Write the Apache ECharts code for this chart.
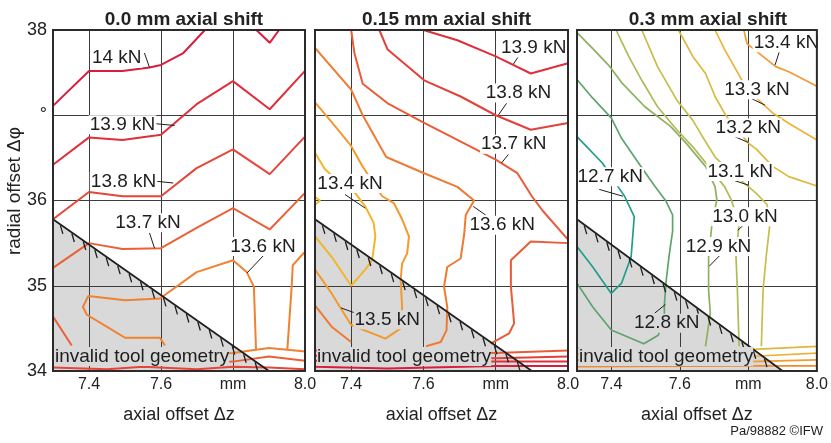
<!DOCTYPE html>
<html>
<head>
<meta charset="utf-8">
<script src="https://cdn.jsdelivr.net/npm/echarts@6/dist/echarts.min.js"></script>
<style>html,body{margin:0;padding:0;background:#fff;}#c{width:831px;height:443px;}</style>
</head>
<body>
<div id="c"></div>
<script>
// ---------- values ----------
const titles = ['0.0 mm axial shift', '0.15 mm axial shift', '0.3 mm axial shift'];
const xTickValues = [7.4, 7.6, 7.8];
const xLabelValues = [7.4, 7.6, 7.8, 8.0];
const yTickLabels = {34: '34', 35: '35', 36: '36', 37: '°', 38: '38'};
const xName = 'axial offset Δz';
const yName = 'radial offset Δφ';
const footer = 'Pa/98882 ©IFW';
const invalidText = 'invalid tool geometry';
const invalidBoundary = [[7.3, 35.78], [7.9, 34.0]];

// panel 1 : 0.0 mm axial shift
const p1_140a = [[7.3,37.11],[7.4,37.52],[7.493,37.52],[7.568,37.56],[7.6,37.59],[7.662,37.73],[7.722,38.0]];
const p1_140b = [[7.865,38.0],[7.902,37.85],[7.928,38.0]];
const p1_139 = [[7.3,36.42],[7.4,36.74],[7.493,36.71],[7.6,36.77],[7.699,37.13],[7.8,37.40],[7.902,37.07],[8.0,37.52]];
const p1_138 = [[7.3,35.78],[7.4,36.10],[7.493,36.05],[7.6,36.05],[7.699,36.38],[7.8,36.60],[7.902,36.31],[8.0,36.75]];
const p1_137 = [[7.3,35.21],[7.4,35.50],[7.493,35.43],[7.6,35.44],[7.699,35.68],[7.8,35.91],[7.902,35.66],[8.0,36.09]];
const p1_136a = [[7.611,34.30],[7.597,34.39],[7.5,34.39],[7.449,34.52],[7.394,34.66],[7.383,34.75],[7.398,34.88],[7.5,34.83],[7.597,34.85],[7.699,35.16],[7.8,35.30],[7.838,35.16],[7.858,34.99],[7.864,34.25],[7.8,34.21],[7.74,34.2]];
const p1_136b = [[8.0,35.40],[7.966,35.24],[7.963,34.99],[7.951,34.25],[8.0,34.23]];
const p1_136c = [[7.864,34.25],[7.9,34.27],[7.951,34.25]];
const p1_137b = [[7.74,34.1],[7.8,34.11],[7.9,34.17],[8.0,34.12]];
const p1_137c = [[7.3,34.64],[7.352,34.30]];
const p1_138b = [[7.3,34.04],[7.45,34.02],[7.55,34.05],[7.7,34.02],[7.8,34.05],[7.9,34.04],[8.0,34.02]];

// panel 2 : 0.15 mm axial shift
const p2_139 = [[7.6,38.0],[7.694,37.88],[7.8,37.69],[7.897,37.49],[8.0,37.61]];
const p2_138 = [[7.478,38.0],[7.501,37.77],[7.602,37.41],[7.703,37.22],[7.8,37.0],[7.897,36.83],[8.0,36.91]];
const p2_137a = [[7.4,38.0],[7.409,37.73],[7.432,37.37],[7.501,37.14],[7.602,36.91],[7.694,36.71],[7.8,36.48],[7.86,36.32],[7.9,36.05],[7.93,35.88],[8.0,35.54]];
const p2_137b = [[8.0,35.5],[7.897,35.52],[7.842,35.30],[7.842,34.99],[7.851,34.56],[7.837,34.44],[7.786,34.32]];
const p2_136a = [[7.3,37.79],[7.4,37.30],[7.432,37.0],[7.497,36.51],[7.602,36.32],[7.694,36.16],[7.74,36.0],[7.717,35.83],[7.713,35.61],[7.703,35.32],[7.666,35.22],[7.657,34.99],[7.666,34.75],[7.664,34.48],[7.648,34.34],[7.607,34.29]];
const p2_136b = [[7.3,34.77],[7.346,34.52],[7.4,34.34]];
const p2_135 = [[7.3,37.15],[7.344,36.93],[7.4,36.64],[7.43,36.41],[7.486,36.05],[7.518,35.97],[7.541,35.78],[7.56,35.58],[7.555,35.38],[7.541,35.26],[7.537,35.07],[7.541,34.75],[7.537,34.50],[7.495,34.38],[7.4,34.54],[7.346,34.91],[7.3,35.19]];
const p2_134 = [[7.3,36.56],[7.327,36.37],[7.37,36.2],[7.411,36.09],[7.439,35.93],[7.462,35.74],[7.467,35.58],[7.458,35.30],[7.439,35.19],[7.4,35.0],[7.346,35.34],[7.3,35.58]];
const p2_133 = [[7.3,36.04],[7.314,36.0],[7.3,35.95]];
const p2_137c = [[7.3,34.24],[7.5,34.23],[7.8,34.21],[8.0,34.24]];
const p2_138c = [[7.3,34.18],[7.8,34.15],[8.0,34.17]];
const p2_139c = [[7.3,34.12],[7.8,34.11],[8.0,34.11]];
const p2_140c = [[7.3,34.05],[7.5,34.03],[7.8,34.06],[8.0,34.06]];

// panel 3 : 0.3 mm axial shift
const p3_134 = [[7.787,38.0],[7.796,37.84],[7.88,37.57],[7.918,37.51],[8.0,37.34]];
const p3_133 = [[7.703,38.0],[7.731,37.77],[7.759,37.57],[7.787,37.37],[7.824,37.2],[7.87,37.03],[7.92,36.9],[8.0,36.71]];
const p3_132 = [[7.596,38.0],[7.638,37.69],[7.675,37.49],[7.703,37.22],[7.731,37.02],[7.75,36.91],[7.801,36.67],[7.824,36.6],[7.871,36.40],[7.918,36.28],[8.0,36.17]];
const p3_131 = [[7.489,38.0],[7.535,37.57],[7.591,37.18],[7.638,36.94],[7.666,36.75],[7.703,36.51],[7.731,36.40],[7.801,36.16],[7.824,36.08],[7.855,35.95],[7.862,35.69],[7.852,35.34],[7.843,34.95],[7.838,34.29]];
const p3_130 = [[7.414,38.0],[7.451,37.69],[7.489,37.41],[7.535,37.10],[7.591,36.83],[7.638,36.63],[7.684,36.40],[7.731,36.16],[7.75,36.01],[7.773,35.73],[7.764,35.34],[7.768,34.95],[7.773,34.29]];
const p3_129 = [[7.3,37.97],[7.349,37.77],[7.396,37.57],[7.433,37.37],[7.498,37.10],[7.573,36.87],[7.619,36.67],[7.675,36.40],[7.703,36.16],[7.708,36.01],[7.694,35.73],[7.684,35.34],[7.684,34.95],[7.689,34.68],[7.675,34.29]];
const p3_128 = [[7.3,37.42],[7.346,37.20],[7.4,36.97],[7.43,36.73],[7.476,36.46],[7.523,36.19],[7.56,35.99],[7.579,35.83],[7.579,35.64],[7.569,35.36],[7.56,35.05],[7.555,34.78],[7.555,34.62],[7.537,34.42],[7.495,34.32],[7.4,34.48],[7.346,34.75],[7.3,35.03]];
const p3_127 = [[7.3,36.75],[7.374,36.44],[7.42,36.16],[7.439,36.05],[7.467,35.81],[7.458,35.34],[7.43,35.03],[7.4,34.91],[7.346,35.22],[7.3,35.46]];
const p3_132b = [[7.3,34.27],[7.8,34.25],[8.0,34.29]];
const p3_133b = [[7.3,34.2],[7.8,34.17],[8.0,34.21]];
const p3_134b = [[7.3,34.13],[7.8,34.11],[8.0,34.13]];
const p3_135b = [[7.3,34.05],[7.8,34.06],[8.0,34.06]];

const contours1 = [['14.0',p1_140a],['14.0',p1_140b],['13.9',p1_139],['13.8',p1_138],['13.7',p1_137],['13.6',p1_136a],['13.6',p1_136b],['13.6',p1_136c],['13.7',p1_137b],['13.7',p1_137c],['13.8',p1_138b]];
const contours2 = [['13.9',p2_139],['13.8',p2_138],['13.7',p2_137a],['13.7',p2_137b],['13.6',p2_136a],['13.6',p2_136b],['13.5',p2_135],['13.4',p2_134],['13.3',p2_133],['13.7',p2_137c],['13.8',p2_138c],['13.9',p2_139c],['14.0',p2_140c]];
const contours3 = [['13.4',p3_134],['13.3',p3_133],['13.2',p3_132],['13.1',p3_131],['13.0',p3_130],['12.9',p3_129],['12.8',p3_128],['12.7',p3_127],['13.2',p3_132b],['13.3',p3_133b],['13.4',p3_134b],['13.5',p3_135b]];

// contour labels: text, text centre, leader start, leader end
const labels1 = [
  ['14 kN',[7.477,37.67],[7.554,37.73],[7.568,37.56]],
  ['13.9 kN',[7.493,36.89],[7.587,36.90],[7.638,36.88]],
  ['13.8 kN',[7.496,36.225],[7.589,36.225],[7.634,36.205]],
  ['13.7 kN',[7.564,35.74],[7.568,35.62],[7.582,35.44]],
  ['13.6 kN',[7.883,35.46],[7.886,35.36],[7.839,35.15]]
];
const labels2 = [
  ['13.9 kN',[7.905,37.79],[7.863,37.69],[7.849,37.60]],
  ['13.8 kN',[7.863,37.26],[7.83,37.14],[7.807,37.0]],
  ['13.7 kN',[7.85,36.66],[7.835,36.54],[7.816,36.44]],
  ['13.6 kN',[7.818,35.71],[7.772,35.83],[7.738,35.93]],
  ['13.4 kN',[7.397,36.2],[7.383,36.07],[7.439,35.91]],
  ['13.5 kN',[7.5,34.60],[7.411,34.68],[7.372,34.74]]
];
const labels3 = [
  ['13.4 kN',[7.911,37.85],[7.89,37.74],[7.878,37.59]],
  ['13.3 kN',[7.825,37.30],[7.807,37.20],[7.848,37.12]],
  ['13.2 kN',[7.8,36.85],[7.76,36.75],[7.8,36.68]],
  ['13.1 kN',[7.776,36.34],[7.755,36.24],[7.8,36.18]],
  ['13.0 kN',[7.79,35.81],[7.788,35.72],[7.769,35.65]],
  ['12.9 kN',[7.713,35.46],[7.718,35.36],[7.686,35.23]],
  ['12.8 kN',[7.562,34.56],[7.527,34.68],[7.558,34.78]],
  ['12.7 kN',[7.397,36.28],[7.365,36.13],[7.434,36.05]]
];

// ---------- styles ----------
const colors1 = {'14.0':'#d81e3c','13.9':'#df2f3b','13.8':'#e6463a','13.7':'#eb6036','13.6':'#f08232'};
const colors2 = {'14.0':'#d81e3c','13.9':'#df2f3b','13.8':'#e4403a','13.7':'#ea5c37','13.6':'#ef7a33','13.5':'#f29a30','13.4':'#f2b62c','13.3':'#e8c030'};
const colors3 = {'13.5':'#f08a30','13.4':'#f39a30','13.3':'#eeb236','13.2':'#dcb83e','13.1':'#c7bd4c','13.0':'#b0bb58','12.9':'#8eb060','12.8':'#5fa46c','12.7':'#219d8e'};
const FONT = '"Liberation Sans", Arial, sans-serif';
const gridBoxes = [{left:53,width:252},{left:315,width:253},{left:577,width:252}];

const panels = [
  {contours: contours1, labels: labels1, colors: colors1, lw: 2},
  {contours: contours2, labels: labels2, colors: colors2, lw: 2},
  {contours: contours3, labels: labels3, colors: colors3, lw: 1.7}
];

function bY(x){ // boundary y at x
  const [a,b] = invalidBoundary;
  return a[1] + (x - a[0]) * (b[1]-a[1]) / (b[0]-a[0]);
}

const chart = echarts.init(document.getElementById('c'), null, {renderer:'canvas'});
const grid = [], xAxis = [], yAxis = [], series = [], title = [];

panels.forEach((P, i) => {
  grid.push({left: gridBoxes[i].left, width: gridBoxes[i].width, top: 30, height: 341, show: true,
    borderColor: '#2b2b2b', borderWidth: 2, backgroundColor: 'transparent', z: 6});
  title.push({text: titles[i], left: gridBoxes[i].left + gridBoxes[i].width/2, top: 5, textAlign: 'center',
    textStyle: {fontFamily: FONT, fontSize: 19, fontWeight: 'bold', color: '#222'}});
  xAxis.push({type:'value', gridIndex:i, min:7.3, max:8.0, z:1,
    axisLine:{show:false}, axisTick:{show:false, customValues: xTickValues},
    axisLabel:{customValues: xLabelValues, margin: 6, color:'#222', fontFamily: FONT, fontSize: 16,
      formatter: v => (Math.abs(v-7.8) < 1e-6 ? 'mm' : v.toFixed(1))},
    splitLine:{show:true, lineStyle:{color:'#3c3c3c', width:1}},
    name: xName, nameLocation:'middle', nameGap: 35,
    nameTextStyle:{fontFamily: FONT, fontSize: 18, color:'#222'}});
  yAxis.push({type:'value', gridIndex:i, min:34, max:38, interval:1, z:1,
    axisLine:{show:false}, axisTick:{show:false},
    axisLabel:{show: i===0, margin: 6, color:'#222', fontFamily: FONT, fontSize: 18,
      formatter: v => yTickLabels[v] !== undefined ? yTickLabels[v] : ''},
    splitLine:{show:true, lineStyle:{color:'#3c3c3c', width:1}}});

  // invalid region fill
  series.push({type:'custom', xAxisIndex:i, yAxisIndex:i, z:0.5, silent:true, data:[[7.3,34]],
    renderItem: (params, api) => {
      const a = api.coord(invalidBoundary[0]), b = api.coord(invalidBoundary[1]), c = api.coord([invalidBoundary[0][0], invalidBoundary[1][1]]);
      return {type:'polygon', shape:{points:[a,b,c]}, style:{fill:'#d9d9d9'}};
    }});
  // contours
  P.contours.forEach(([lev, d]) => {
    series.push({type:'line', xAxisIndex:i, yAxisIndex:i, data:d, showSymbol:false, symbol:'none', z:2,
      silent:true, animation:false, lineStyle:{color:P.colors[lev], width:P.lw}});
  });
  // boundary + hatch
  series.push({type:'custom', xAxisIndex:i, yAxisIndex:i, z:3, silent:true, data:[[7.3,34]],
    renderItem: (params, api) => {
      const a = api.coord(invalidBoundary[0]), b = api.coord(invalidBoundary[1]);
      const bottom = api.coord([7.3, 34])[1];
      const ch = [{type:'line', shape:{x1:a[0],y1:a[1],x2:b[0],y2:b[1]}, style:{stroke:'#1e1e1e', lineWidth:1.7}}];
      const dx = b[0]-a[0], dy = b[1]-a[1], len = Math.hypot(dx, dy);
      for (let s = 9; s < len; s += 14) {
        const x = a[0] + dx*s/len, y = a[1] + dy*s/len;
        if (y + 8 > bottom) break;
        ch.push({type:'line', shape:{x1:x, y1:y+1, x2:x+2.5, y2:y+9.5}, style:{stroke:'#1e1e1e', lineWidth:1.3}});
      }
      return {type:'group', children: ch};
    }});
  // contour labels
  series.push({type:'custom', xAxisIndex:i, yAxisIndex:i, z:4, silent:true, data: P.labels.map(l => l[1]),
    renderItem: (params, api) => {
      const L = P.labels[params.dataIndex];
      const p = api.coord(L[1]), a = api.coord(L[2]), b = api.coord(L[3]);
      const inGray = L[1][1] < bY(L[1][0]);
      return {type:'group', children:[
        {type:'line', shape:{x1:a[0],y1:a[1],x2:b[0],y2:b[1]}, style:{stroke:'#1e1e1e', lineWidth:1}},
        {type:'text', x:p[0], y:p[1], style:{text:L[0], align:'center', verticalAlign:'middle',
          font:'19px ' + FONT, fill:'#1e1e1e', backgroundColor: inGray ? '#d9d9d9' : '#ffffff', padding:[0,1]}}
      ]};
    }});
  // invalid label
  series.push({type:'custom', xAxisIndex:i, yAxisIndex:i, z:5, silent:true, data:[[7.3,34.17]],
    renderItem: (params, api) => {
      const p = api.coord([api.value(0), api.value(1)]);
      return {type:'text', x:p[0]+2, y:p[1], style:{text: invalidText, align:'left', verticalAlign:'middle',
        font:'19px ' + FONT, fill:'#1e1e1e', backgroundColor:'#d9d9d9', padding:[0,0]}};
    }});
});

title.push({text: footer, right: 3, bottom: 0, textStyle:{fontFamily: FONT, fontSize: 13, fontWeight:'normal', color:'#222'}});

chart.setOption({animation:false, backgroundColor:'#fff', title, grid, xAxis, yAxis, series,
  graphic: [{type:'text', x:15, y:191, rotation: Math.PI/2,
    style:{text: yName, align:'center', verticalAlign:'middle', font:'19px ' + FONT, fill:'#222'}}]});
</script>
</body>
</html>
